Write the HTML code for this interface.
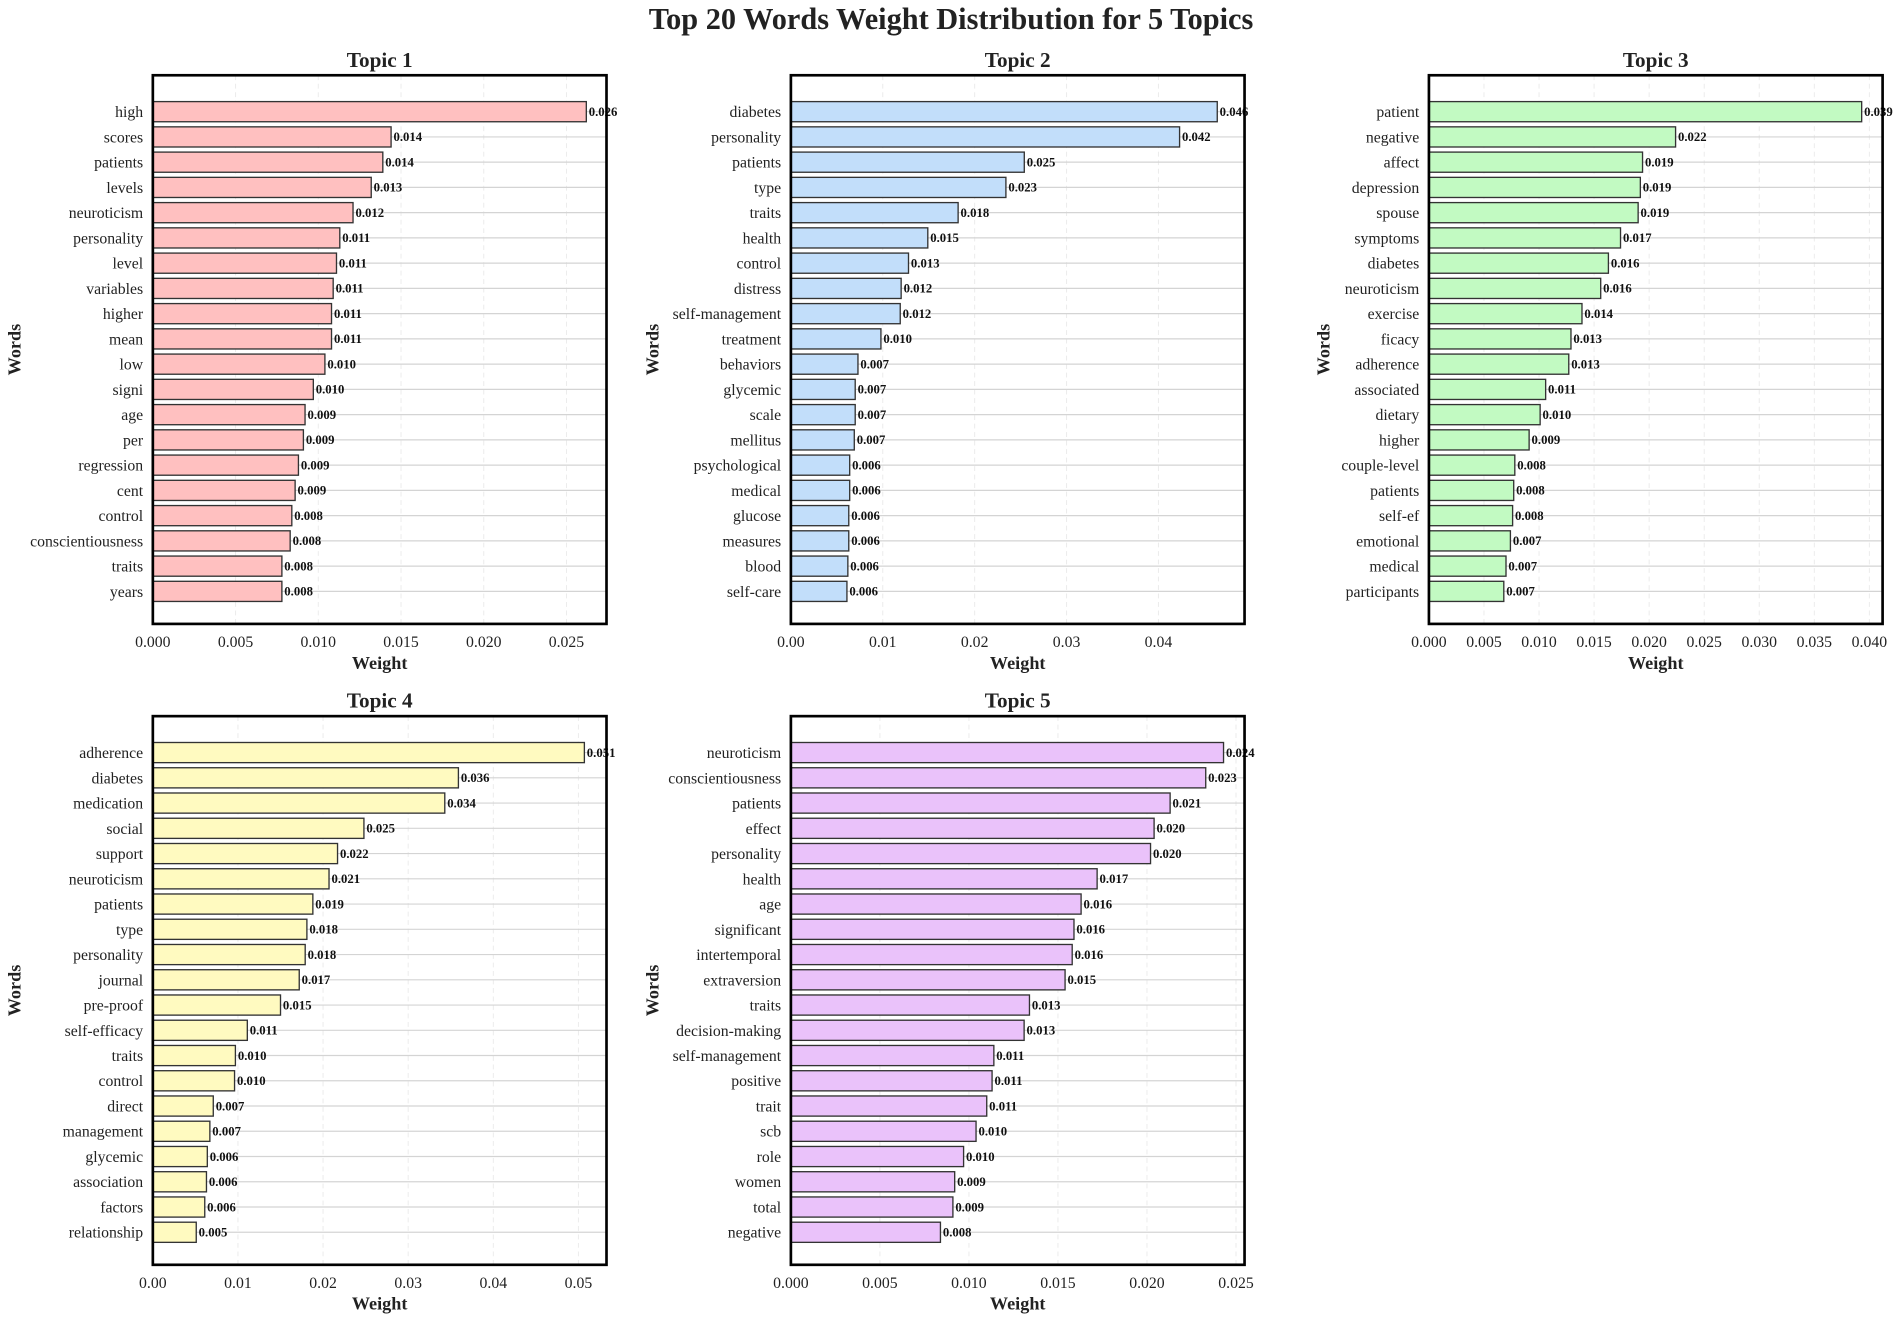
<!DOCTYPE html>
<html><head><meta charset="utf-8"><style>
html,body{margin:0;padding:0;background:#fff}
svg{display:block;font-family:"Liberation Serif",serif}
</style></head><body>
<svg id="chart" width="1902" height="1317" viewBox="0 0 1568 1085" preserveAspectRatio="none" xmlns="http://www.w3.org/2000/svg">
<rect width="1568" height="1085" fill="#fff"/>
<text x="784" y="24" text-anchor="middle" font-size="25" font-weight="bold" fill="#222">Top 20 Words Weight Distribution for 5 Topics</text>
</svg>
<script>
const t1Words=["high","scores","patients","levels","neuroticism","personality","level","variables","higher","mean","low","signi","age","per","regression","cent","control","conscientiousness","traits","years"];
const t1Values=[0.0262,0.0144,0.0139,0.0132,0.0121,0.0113,0.0111,0.0109,0.0108,0.0108,0.0104,0.0097,0.0092,0.0091,0.0088,0.0086,0.0084,0.0083,0.0078,0.0078];
const t2Words=["diabetes","personality","patients","type","traits","health","control","distress","self-management","treatment","behaviors","glycemic","scale","mellitus","psychological","medical","glucose","measures","blood","self-care"];
const t2Values=[0.0464,0.0423,0.0254,0.0234,0.0182,0.0149,0.0128,0.0120,0.0119,0.0098,0.0073,0.0070,0.0070,0.0069,0.0064,0.0064,0.0063,0.0063,0.0062,0.0061];
const t3Words=["patient","negative","affect","depression","spouse","symptoms","diabetes","neuroticism","exercise","ficacy","adherence","associated","dietary","higher","couple-level","patients","self-ef","emotional","medical","participants"];
const t3Values=[0.0393,0.0224,0.0194,0.0192,0.0190,0.0174,0.0163,0.0156,0.0139,0.0129,0.0127,0.0106,0.0101,0.0091,0.0078,0.0077,0.0076,0.0074,0.0070,0.0068];
const t4Words=["adherence","diabetes","medication","social","support","neuroticism","patients","type","personality","journal","pre-proof","self-efficacy","traits","control","direct","management","glycemic","association","factors","relationship"];
const t4Values=[0.0507,0.0359,0.0343,0.0248,0.0217,0.0207,0.0188,0.0181,0.0179,0.0172,0.0150,0.0111,0.0097,0.0096,0.0071,0.0067,0.0064,0.0063,0.0061,0.0051];
const t5Words=["neuroticism","conscientiousness","patients","effect","personality","health","age","significant","intertemporal","extraversion","traits","decision-making","self-management","positive","trait","scb","role","women","total","negative"];
const t5Values=[0.0243,0.0233,0.0213,0.0204,0.0202,0.0172,0.0163,0.0159,0.0158,0.0154,0.0134,0.0131,0.0114,0.0113,0.0110,0.0104,0.0097,0.0092,0.0091,0.0084];
const t1Ticks=[0,0.005,0.010,0.015,0.020,0.025];
const t2Ticks=[0,0.01,0.02,0.03,0.04];
const t3Ticks=[0,0.005,0.010,0.015,0.020,0.025,0.030,0.035,0.040];
const t4Ticks=[0,0.01,0.02,0.03,0.04,0.05];
const t5Ticks=[0,0.005,0.010,0.015,0.020,0.025];

const NS="http://www.w3.org/2000/svg";
const svg=document.getElementById('chart');
function mk(tag,attrs,parent){const e=document.createElementNS(NS,tag);for(const k in attrs)e.setAttribute(k,attrs[k]);(parent||svg).appendChild(e);return e;}

function panel(n,x0,y0,xmax,words,vals,ticks,tickDec,fill,wordsX){
  const W=374,H=452;
  const g=mk('g',{});
  
  
  const xs=v=>x0+v/xmax*W;
  const ys=i=>y0+30+i*20.8;
  const tt=mk('text',{x:x0+W/2,y:y0-7,'text-anchor':'middle','font-size':17.5,'font-weight':'bold',fill:'#222'},g);
  tt.textContent='Topic '+n;
  
  
  ticks.forEach(t=>{
    const l=mk('line',{x1:xs(t),x2:xs(t),y1:y0,y2:y0+H,stroke:'#ebebeb','stroke-width':0.8,'stroke-dasharray':'4,3'},g);
    
    
    const tl=mk('text',{x:xs(t),y:y0+H+19,'text-anchor':'middle','font-size':13,fill:'#222'},g);
    tl.textContent=t.toFixed(tickDec);
    
    
  });
  words.forEach((w,i)=>{
    const y=ys(i);
    const gl=mk('line',{x1:x0,x2:x0+W,y1:y,y2:y,stroke:'#d4d4d4','stroke-width':1},g);
    
    
  });
  words.forEach((w,i)=>{
    const y=ys(i),v=vals[i];
    const b=mk('rect',{x:x0,y:y-8.3,width:xs(v)-x0,height:16.6,fill:fill,stroke:'#333','stroke-width':1.1},g);
    
    
    const vl=mk('text',{x:xs(v)+2,y:y+3.5,'font-size':10.5,'font-weight':'bold',fill:'#111'},g);
    vl.textContent=v.toFixed(3);
    
    
    const wl=mk('text',{x:x0-8,y:y+4.5,'text-anchor':'end','font-size':13,fill:'#222'},g);
    wl.textContent=w;
    
    
  });
  const fr=mk('rect',{x:x0,y:y0,width:W,height:H,fill:'none',stroke:'#000','stroke-width':2.2},g);
  
  
  const xl=mk('text',{x:x0+W/2,y:y0+H+37,'text-anchor':'middle','font-size':15,'font-weight':'bold',fill:'#222'},g);
  xl.textContent='Weight';
  
  
  const cy=y0+H/2;
  const yl=mk('text',{x:wordsX,y:cy,'text-anchor':'middle','font-size':15,'font-weight':'bold',fill:'#222',transform:'rotate(-90 '+wordsX+' '+cy+')'},g);
  yl.textContent='Words';
  
  
}
panel(1,126,62,0.02742,t1Words,t1Values,t1Ticks,3,'#ffc0c0',17);
panel(2,652,62,0.04937,t2Words,t2Values,t2Ticks,2,'#c2defa',543);
panel(3,1178,62,0.0412,t3Words,t3Values,t3Ticks,3,'#c2fac2',1096);
panel(4,126,590,0.0533,t4Words,t4Values,t4Ticks,2,'#fffac0',17);
panel(5,652,590,0.02548,t5Words,t5Values,t5Ticks,3,'#eac2fa',543);
</script>
</body></html>
